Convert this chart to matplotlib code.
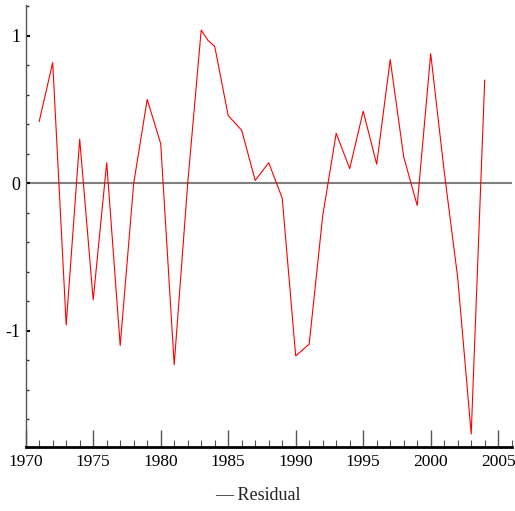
import numpy as np
import matplotlib.pyplot as plt
from matplotlib.ticker import MultipleLocator

# residual series (annual, a few extra readings inside some years)
years = [1971, 1972, 1973, 1974, 1975, 1976, 1977, 1978, 1979, 1980,
         1981, 1982, 1983, 1983.5, 1984, 1985, 1986, 1987, 1988, 1989,
         1990, 1991, 1992, 1993, 1994, 1995, 1996, 1997, 1998, 1999,
         2000, 2001, 2002, 2003, 2004]
residual = [0.42, 0.82, -0.96, 0.30, -0.79, 0.14, -1.10, 0.00, 0.57, 0.27,
            -1.23, 0.00, 1.04, 0.97, 0.93, 0.46, 0.36, 0.02, 0.14, -0.10,
            -1.17, -1.09, -0.22, 0.34, 0.10, 0.49, 0.13, 0.84, 0.18, -0.15,
            0.88, 0.08, -0.64, -1.70, 0.70]

x_ticks = [1970, 1975, 1980, 1985, 1990, 1995, 2000, 2005]
y_ticks = [-1, 0, 1]

plt.rcParams["font.family"] = ["Liberation Serif", "DejaVu Serif"]
plt.rcParams["axes.unicode_minus"] = False

fig = plt.figure(figsize=(5.15, 5.11), dpi=100)
ax = fig.add_axes([0.0499, 0.1247, 0.9437, 0.8655])

ax.axhline(0, color="#808080", lw=1.5, zorder=1)
ax.plot(years, residual, color="#ff0000", lw=0.8, zorder=2)

ax.set_xlim(1970, 2006)
ax.set_ylim(-1.79, 1.21)

ax.set_xticks(x_ticks)
ax.set_yticks(y_ticks)
ax.xaxis.set_minor_locator(MultipleLocator(1))
ax.yaxis.set_minor_locator(MultipleLocator(0.2))

ax.tick_params(axis="x", which="major", direction="in", length=12, width=1,
               color="#555555", labelsize=12.5, pad=5)
ax.tick_params(axis="x", which="minor", direction="in", length=5, width=0.8,
               color="#555555")
ax.tick_params(axis="y", which="major", direction="in", length=3, width=1.5,
               color="black", labelsize=13, pad=4)
ax.tick_params(axis="y", which="minor", direction="in", length=2.5, width=1,
               color="#333333")

for side in ["top", "right"]:
    ax.spines[side].set_visible(False)
ax.spines["left"].set_color("#555555")
ax.spines["left"].set_linewidth(1)
ax.spines["bottom"].set_color("black")
ax.spines["bottom"].set_linewidth(2)

fig.text(0.50, 0.030, "— Residual", ha="center", va="center",
         fontsize=13, color="#222222")

plt.savefig("out.png", dpi=100)
